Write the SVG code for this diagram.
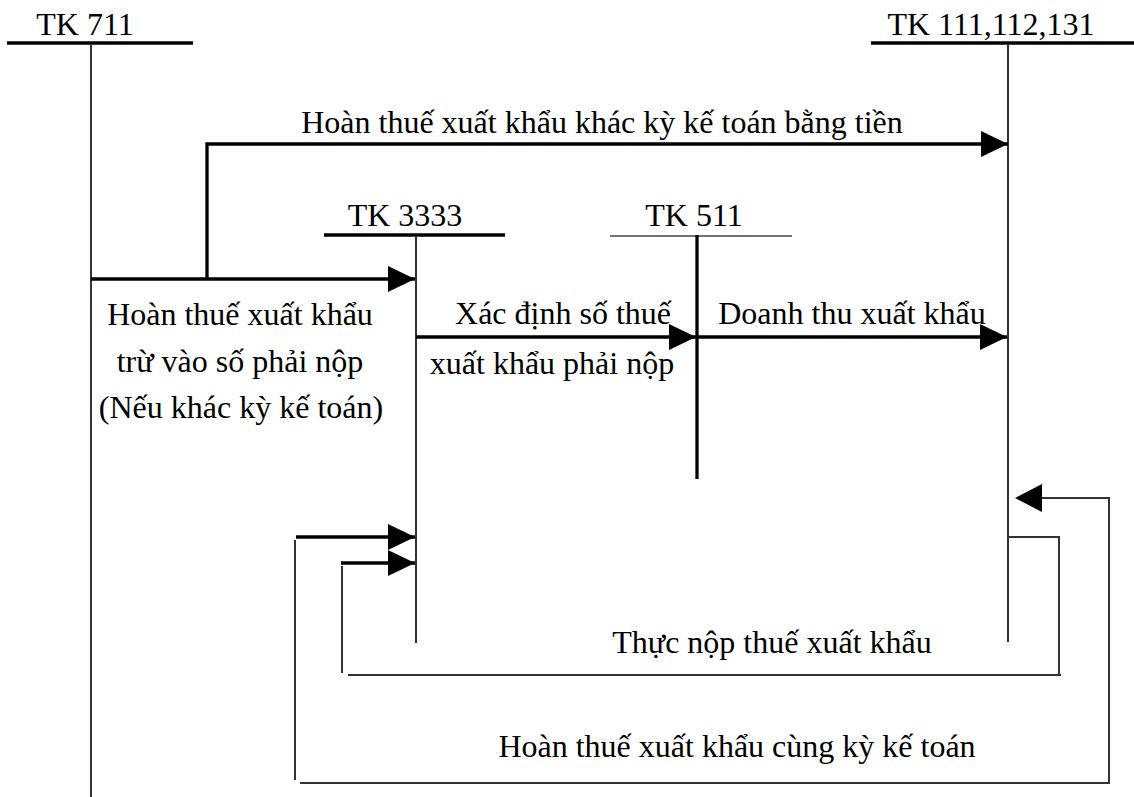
<svg xmlns="http://www.w3.org/2000/svg" width="1134" height="797" viewBox="0 0 1134 797">
  <style>
    text { font-family: "Liberation Serif", "Times New Roman", serif; font-size: 32px; fill: #000; }
    .hdr { stroke: #000; stroke-width: 3.3; fill: none; }
    .hdr-thin { stroke: #444; stroke-width: 1.6; fill: none; }
    .acc { stroke: #333; stroke-width: 2; fill: none; }
    .acc-bold { stroke: #000; stroke-width: 3.3; fill: none; }
    .arrow { stroke: #000; stroke-width: 3.3; fill: none; }
    .thin { stroke: #333; stroke-width: 2; fill: none; }
  </style>
  <defs>
    <marker id="ah" viewBox="0 0 27 26" refX="27" refY="13" markerWidth="27" markerHeight="26" markerUnits="userSpaceOnUse" orient="auto">
      <polygon points="0,0 27,13 0,26" fill="#000"/>
    </marker>
  </defs>
  <rect width="1134" height="797" fill="#fff"/>

  <g id="tk711">
    <text x="85" y="35" text-anchor="middle">TK 711</text>
    <line class="hdr" x1="7" y1="43" x2="193" y2="43"/>
    <line class="acc" x1="91" y1="44" x2="91" y2="797"/>
  </g>

  <g id="tk111">
    <text x="991" y="35" text-anchor="middle">TK 111,112,131</text>
    <line class="hdr" x1="871" y1="43" x2="1134" y2="43"/>
    <line class="acc" x1="1008" y1="44" x2="1008" y2="642"/>
  </g>

  <g id="tk3333">
    <text x="405" y="226" text-anchor="middle">TK 3333</text>
    <line class="hdr" x1="324" y1="235" x2="505" y2="235"/>
    <line class="acc" x1="416" y1="236" x2="416" y2="643"/>
  </g>

  <g id="tk511">
    <text x="694" y="226" text-anchor="middle">TK 511</text>
    <line class="hdr-thin" x1="610" y1="236" x2="792" y2="236"/>
    <line class="acc-bold" x1="697" y1="235" x2="697" y2="479"/>
  </g>

  <g id="connectors">
    <!-- Hoàn thuế khác kỳ bằng tiền -->
    <polyline class="arrow" points="207,279 207,144 1008,144" marker-end="url(#ah)"/>
    <text x="602" y="133" text-anchor="middle">Hoàn thuế xuất khẩu khác kỳ kế toán bằng tiền</text>

    <!-- Hoàn thuế trừ vào số phải nộp -->
    <line class="arrow" x1="91" y1="279" x2="415" y2="279" marker-end="url(#ah)"/>
    <text x="240" y="325" text-anchor="middle">Hoàn thuế xuất khẩu</text>
    <text x="240" y="372" text-anchor="middle">trừ vào số phải nộp</text>
    <text x="241" y="418" text-anchor="middle">(Nếu khác kỳ kế toán)</text>

    <!-- Xác định số thuế -->
    <line class="arrow" x1="416" y1="337" x2="696" y2="337" marker-end="url(#ah)"/>
    <text x="563" y="324" text-anchor="middle">Xác định số thuế</text>
    <text x="552" y="374" text-anchor="middle">xuất khẩu phải nộp</text>

    <!-- Doanh thu xuất khẩu -->
    <line class="arrow" x1="697" y1="337" x2="1007" y2="337" marker-end="url(#ah)"/>
    <text x="852" y="324" text-anchor="middle">Doanh thu xuất khẩu</text>

    <!-- Thực nộp thuế xuất khẩu -->
    <polyline class="thin" points="1008,537 1059,537 1059,675"/>
    <line class="thin" x1="1061" y1="675" x2="348" y2="675"/>
    <line class="thin" x1="342" y1="673" x2="342" y2="566"/>
    <line class="arrow" x1="341" y1="563" x2="415" y2="563" marker-end="url(#ah)"/>
    <text x="772" y="653" text-anchor="middle">Thực nộp thuế xuất khẩu</text>

    <!-- Hoàn thuế cùng kỳ -->
    <line class="thin" x1="1109" y1="498" x2="1040" y2="498"/>
    <polygon points="1015,498 1042,484 1042,512" fill="#000"/>
    <polyline class="thin" points="1109,497 1109,783 300,783"/>
    <line class="thin" x1="295" y1="780" x2="295" y2="540"/>
    <line class="arrow" x1="296" y1="537" x2="415" y2="537" marker-end="url(#ah)"/>
    <text x="737" y="757" text-anchor="middle">Hoàn thuế xuất khẩu cùng kỳ kế toán</text>
  </g>
</svg>
